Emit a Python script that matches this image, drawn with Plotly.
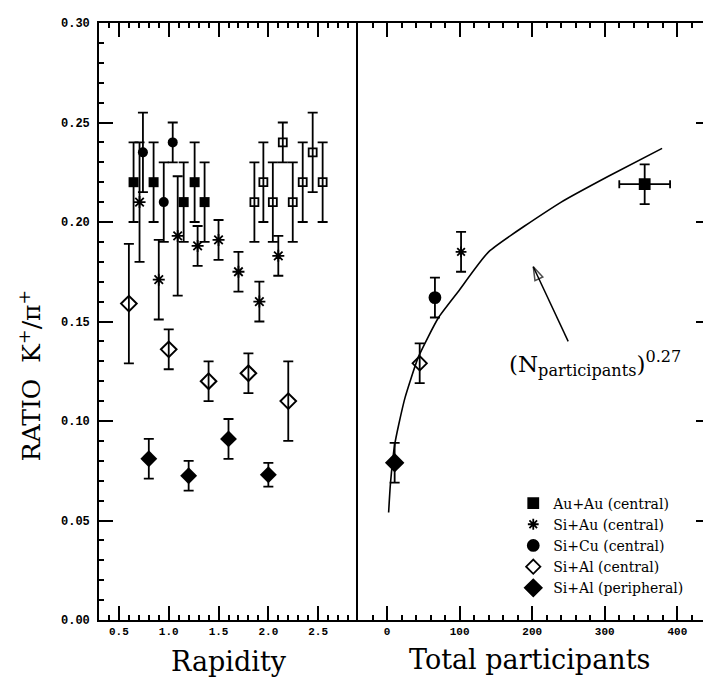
import plotly.graph_objects as go
from plotly.subplots import make_subplots

# left panel: rapidity dependence
auau_y = [0.647, 0.741, 0.848, 0.950, 1.040, 1.150, 1.260, 1.360]
auau_ratio = [0.220, 0.235, 0.220, 0.210, 0.240, 0.210, 0.220, 0.210]
auau_err = [0.020, 0.020, 0.020, 0.020, 0.010, 0.020, 0.020, 0.020]
auau_sym = ["square", "circle", "square", "circle", "circle", "square", "square", "square"]

# reflected about mid-rapidity (open squares)
auau_refl_y = [2.545, 2.445, 2.345, 2.245, 2.145, 2.045, 1.950, 1.860]

siau_y = [0.707, 0.900, 1.090, 1.290, 1.500, 1.700, 1.910, 2.100]
siau_ratio = [0.210, 0.171, 0.193, 0.188, 0.191, 0.175, 0.160, 0.183]
siau_err = [0.030, 0.020, 0.030, 0.010, 0.010, 0.010, 0.010, 0.010]

sial_c_y = [0.60, 1.00, 1.40, 1.80, 2.20]
sial_c_ratio = [0.159, 0.136, 0.120, 0.124, 0.110]
sial_c_err = [0.030, 0.010, 0.010, 0.010, 0.020]

sial_p_y = [0.80, 1.20, 1.60, 2.00]
sial_p_ratio = [0.081, 0.0725, 0.091, 0.073]
sial_p_err = [0.010, 0.0075, 0.010, 0.006]

# right panel: vs total participants
systems = ["Au+Au (central)", "Si+Au (central)", "Si+Cu (central)",
           "Si+Al (central)", "Si+Al (peripheral)"]
npart = [355, 102, 66, 45, 10.5]
npart_err = [35, 0, 0, 0, 0]
npart_ratio = [0.219, 0.185, 0.162, 0.129, 0.079]
npart_ratio_err = [0.010, 0.010, 0.010, 0.010, 0.010]
symbols = ["square", "asterisk-open", "circle", "diamond-open", "diamond"]
sizes = [10, 9, 11, 11, 13]

# (N_part)^0.27 curve
curve_n = [2.2, 4.6, 10.5, 16, 25, 43, 71, 98, 140, 240, 305, 379]
curve_ratio = [0.054, 0.068, 0.088, 0.098, 0.112, 0.132, 0.152, 0.165,
               0.185, 0.210, 0.223, 0.237]

# label arrow: from the label up to the curve
arrow_n = [249.6, 201.5]
arrow_r = [0.140, 0.1775]

SERIF = "DejaVu Serif"
YTICKFONT = dict(family="Liberation Mono", size=12, color="black", weight="bold")
XTICKFONT = dict(family="Liberation Mono", size=11, color="black", weight="bold")


def ebar(err, width=5):
    return dict(type="data", array=err, color="black", thickness=1.8, width=width)


fig = make_subplots(rows=1, cols=2, shared_yaxes=True, horizontal_spacing=0,
                    column_widths=[259, 352])

# ---- left panel
fig.add_trace(go.Scatter(
    x=auau_y, y=auau_ratio, mode="markers", showlegend=False,
    marker=dict(symbol=auau_sym, size=10, color="black"),
    error_y=ebar(auau_err)), row=1, col=1)
fig.add_trace(go.Scatter(
    x=auau_refl_y, y=auau_ratio, mode="markers", showlegend=False,
    marker=dict(symbol="square-open", size=8, color="black", line=dict(width=1.8)),
    error_y=ebar(auau_err)), row=1, col=1)
fig.add_trace(go.Scatter(
    x=siau_y, y=siau_ratio, mode="markers", showlegend=False,
    marker=dict(symbol="asterisk-open", size=10, color="black", line=dict(width=1.8, color="black")),
    error_y=ebar(siau_err)), row=1, col=1)
fig.add_trace(go.Scatter(
    x=sial_c_y, y=sial_c_ratio, mode="markers", showlegend=False,
    marker=dict(symbol="diamond-open", size=12, color="black", line=dict(width=2)),
    error_y=ebar(sial_c_err)), row=1, col=1)
fig.add_trace(go.Scatter(
    x=sial_p_y, y=sial_p_ratio, mode="markers", showlegend=False,
    marker=dict(symbol="diamond", size=13, color="black"),
    error_y=ebar(sial_p_err)), row=1, col=1)

# ---- right panel
fig.add_trace(go.Scatter(
    x=curve_n, y=curve_ratio, mode="lines", showlegend=False,
    line=dict(color="black", width=1.6, shape="spline", smoothing=0.5)), row=1, col=2)

for i, name in enumerate(systems):
    err_x = None
    if npart_err[i] > 0:
        err_x = dict(type="data", array=[npart_err[i]], color="black", thickness=1.8, width=4)
    fig.add_trace(go.Scatter(
        x=[npart[i]], y=[npart_ratio[i]], mode="markers", name=name,
        marker=dict(symbol=symbols[i], size=sizes[i], color="black",
                    line=dict(width=1.8, color="black")),
        error_y=ebar([npart_ratio_err[i]]), error_x=err_x), row=1, col=2)

fig.add_trace(go.Scatter(
    x=arrow_n, y=arrow_r, mode="lines+markers", showlegend=False,
    line=dict(color="black", width=1.5),
    marker=dict(symbol="arrow-open", size=[0, 14], angleref="previous",
                color="black", line=dict(width=1.5, color="black"))), row=1, col=2)

axis_common = dict(showline=True, linecolor="black", linewidth=1.6,
                   tickcolor="black", showgrid=False, zeroline=False,
                   layer="above traces")

fig.update_xaxes(range=[0.3, 2.9], tickvals=[0.5, 1.0, 1.5, 2.0, 2.5],
                 ticktext=["0.5", "1.0", "1.5", "2.0", "2.5"], tickfont=XTICKFONT,
                 ticks="inside", ticklen=14, tickwidth=2, mirror="ticks",
                 minor=dict(ticks="inside", dtick=0.1, tick0=0, ticklen=5,
                            tickcolor="black", tickwidth=1.5),
                 row=1, col=1, **axis_common)
fig.update_xaxes(range=[-40, 445], dtick=100, tick0=0, tickfont=XTICKFONT,
                 ticks="inside", ticklen=14, tickwidth=2, mirror="ticks",
                 minor=dict(ticks="inside", dtick=20, tick0=0, ticklen=5,
                            tickcolor="black", tickwidth=1.5),
                 row=1, col=2, **axis_common)
fig.update_yaxes(range=[0, 0.30], dtick=0.05, tickformat=".2f", tickfont=YTICKFONT,
                 ticks="inside", ticklen=14, tickwidth=2, mirror=False,
                 ticklabelstandoff=5,
                 minor=dict(ticks="inside", dtick=0.01, ticklen=5,
                            tickcolor="black", tickwidth=1.5),
                 row=1, col=1, **axis_common)
fig.update_yaxes(range=[0, 0.30], dtick=0.05,
                 ticks="inside", ticklen=14, tickwidth=2,
                 side="right", showticklabels=False, mirror=True,
                 minor=dict(ticks="inside", dtick=0.01, ticklen=5,
                            tickcolor="black", tickwidth=1.5),
                 row=1, col=2, **axis_common)

fig.update_layout(
    width=711, height=680,
    margin=dict(l=91, r=9, t=12, b=68),
    plot_bgcolor="white", paper_bgcolor="white",
    showlegend=True,
    legend=dict(x=0.678, y=0.222, xanchor="left", yanchor="top",
                bgcolor="rgba(0,0,0,0)", borderwidth=0, itemwidth=30,
                font=dict(family=SERIF, size=14, color="black"),
                tracegroupgap=0),
    annotations=[
        dict(text="Rapidity", xref="paper", yref="paper", x=0.212, y=-0.07,
             xanchor="center", yanchor="middle", showarrow=False,
             font=dict(family=SERIF, size=27, color="black")),
        dict(text="Total participants", xref="paper", yref="paper", x=0.704, y=-0.067,
             xanchor="center", yanchor="middle", showarrow=False,
             font=dict(family=SERIF, size=27, color="black")),
        dict(text="RATIO  K<sup>+</sup>/\u03c0<sup>+</sup>", xref="paper", yref="paper",
             x=-0.113, y=0.41, xanchor="center", yanchor="middle",
             textangle=-90, showarrow=False,
             font=dict(family=SERIF, size=25, color="black")),
        dict(text="(N<sub>participants</sub>)<sup>0.27</sup>", xref="x2", yref="y2",
             x=287, y=0.129, xanchor="center", yanchor="middle", showarrow=False,
             font=dict(family=SERIF, size=23, color="black")),
    ],
)

fig.write_html("out.html")
